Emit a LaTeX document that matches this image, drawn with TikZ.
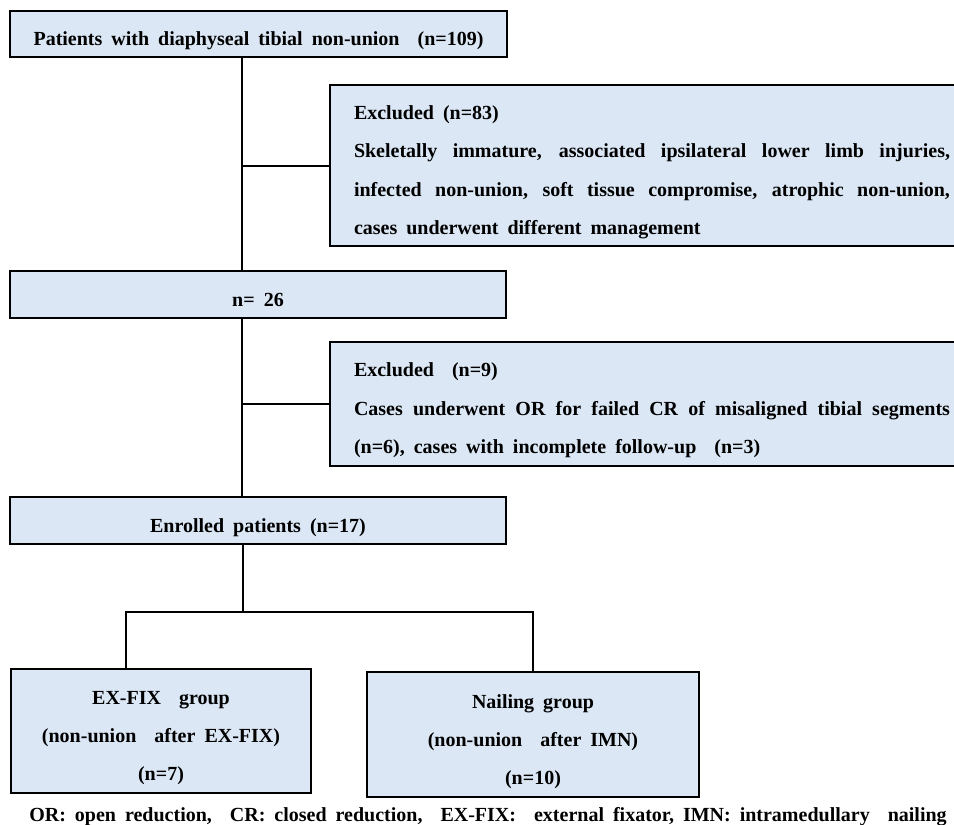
\documentclass[tikz,border=0pt]{standalone}
\usepackage{fontspec}
\setmainfont{Liberation Serif}[WordSpace=1.8]
\usepackage{tikz}
\usetikzlibrary{positioning}
\usetikzlibrary{calc}

\definecolor{boxblue}{RGB}{219,231,245}

\begin{document}
\begin{tikzpicture}[
    x=1pt, y=-1pt,
    box/.style={
        draw, line width=2pt,
        fill=boxblue,
        font=\fontsize{20}{38}\selectfont\bfseries,
        text height=27pt,
        inner sep=0pt
    },
    single/.style={box, text depth=4pt},
    excl/.style={
        box,
        font=\fontsize{20}{38.5}\selectfont\bfseries,
        text width=596pt, align=justify,
        minimum width=644pt
    },
    group/.style={box, align=center, text height=103pt, text depth=4pt},
    link/.style={line width=2pt}
]
\useasboundingbox (0,0) rectangle (954,825);

% main flow
\node[single, minimum width=497pt, minimum height=46pt] (pat) at (258.5,34)
    {Patients with diaphyseal tibial non-union \ (n=109)};
\node[excl, minimum height=161pt] (excla) at (652,165.5)
    {Excluded (n=83)\\
     Skeletally immature, associated ipsilateral lower limb injuries,\linebreak
     infected non-union, soft tissue compromise, atrophic non-union,\linebreak
     cases underwent different management};
\node[single, minimum width=496pt, minimum height=47pt] (rest) at (258,294.5) {n= 26};
\node[excl, minimum height=124pt] (exclb) at (652,404)
    {Excluded \ (n=9)\\
     Cases underwent OR for failed CR of misaligned tibial segments\linebreak
     (n=6), cases with incomplete follow-up \ (n=3)};
\node[single, minimum width=496pt, minimum height=47pt] (enrol) at (258,520.5)
    {Enrolled patients (n=17)};

% groups
\node[group, minimum width=300pt, minimum height=124pt] (exfix) at (161,731)
    {EX-FIX \ group\\(non-union \ after EX-FIX)\\(n=7)};
\node[group, minimum width=332pt, minimum height=125pt] (nail) at (533,734.5)
    {Nailing group\\(non-union \ after IMN)\\(n=10)};

\node[font=\fontsize{20}{24}\selectfont\bfseries, anchor=base, inner sep=0pt] (note) at (488,821)
    {OR: open reduction, \ CR: closed reduction, \ EX-FIX: \ external fixator, IMN: intramedullary \ nailing};

% connectors
\coordinate (spine) at (242,0);
\coordinate (split) at (243,612);
\draw[link] (pat.south -| spine) -- (rest.north -| spine);
\draw[link] (excla.west) -- (excla.west -| spine);
\draw[link] (rest.south -| spine) -- (enrol.north -| spine);
\draw[link] (exclb.west) -- (exclb.west -| spine);
\draw[link] (enrol.south -| split) -- (split);
\draw[link] ([xshift=-35pt]exfix.north) |- (split) -| (nail.north);
\end{tikzpicture}
\end{document}
